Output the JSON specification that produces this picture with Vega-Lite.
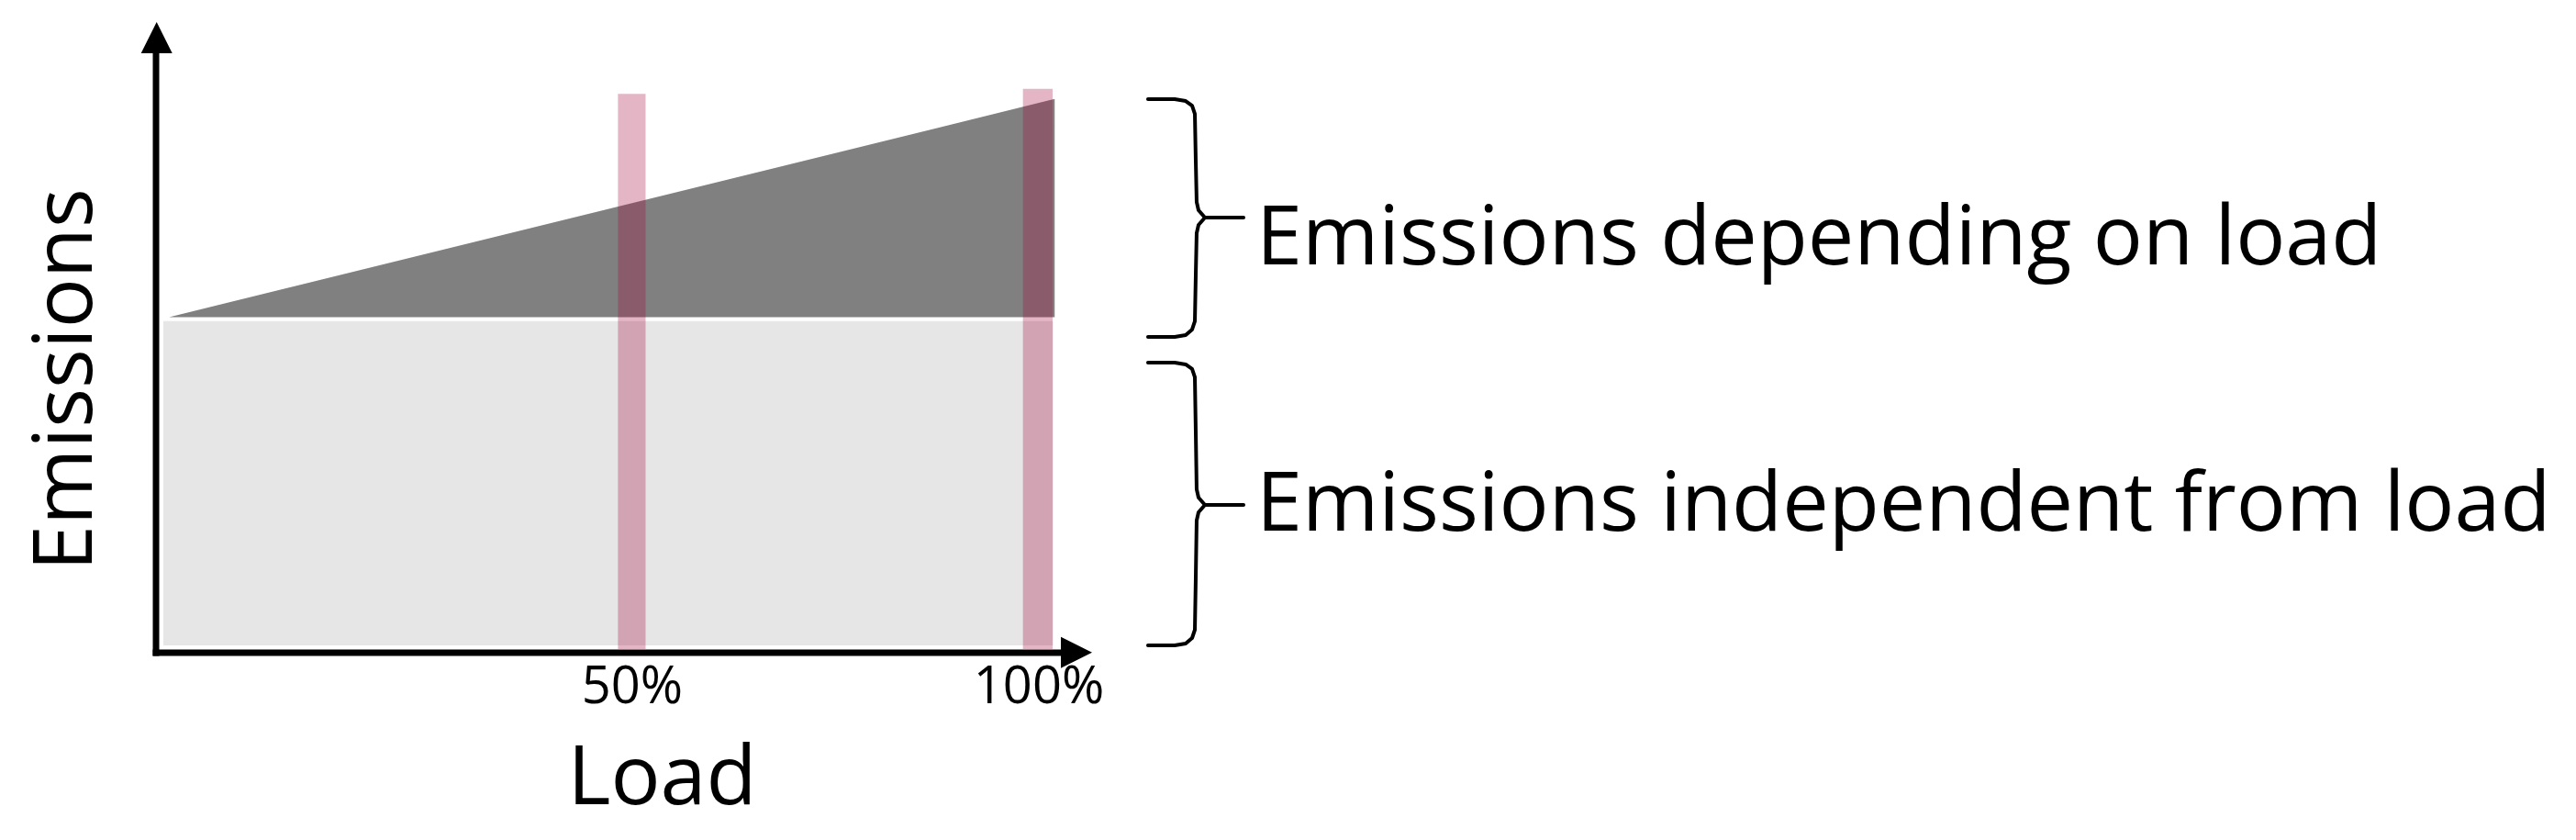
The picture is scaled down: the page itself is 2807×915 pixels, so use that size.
{
  "$schema": "https://vega.github.io/schema/vega-lite/v6.json",
  "width": 1020,
  "height": 687,
  "autosize": {"type": "none"},
  "padding": {"left": 170, "top": 24, "right": 1617, "bottom": 204},
  "background": "white",
  "config": {"view": {"stroke": null}},
  "encoding": {
    "x": {
      "field": "x", "type": "quantitative",
      "scale": {"domain": [-8.5, 106.6], "nice": false, "zero": false},
      "axis": {
        "values": [50, 100], "labelExpr": "datum.value + '%'",
        "domain": false, "ticks": false, "grid": false, "tickSize": 0,
        "labelFont": "Open Sans", "labelFontSize": 56, "labelColor": "black",
        "labelBaseline": "alphabetic", "labelPadding": 54, "labelFlush": false,
        "title": "Load", "titleFont": "Open Sans", "titleFontSize": 90,
        "titleFontWeight": "normal", "titleColor": "black",
        "titleBaseline": "alphabetic", "titleX": 551, "titleY": 164
      }
    },
    "y": {
      "field": "y", "type": "quantitative",
      "scale": {"domain": [0, 100], "nice": false, "zero": false},
      "axis": {
        "domain": false, "ticks": false, "labels": false, "grid": false,
        "title": "Emissions", "titleFont": "Open Sans", "titleFontSize": 90,
        "titleFontWeight": "normal", "titleColor": "black",
        "titleBaseline": "alphabetic", "titleAngle": -90,
        "titleX": -71, "titleY": 389
      }
    }
  },
  "layer": [
    {
      "data": {"values": [{"part": "independent", "x": -7.6, "x2": 101.8, "y": 1.16, "y2": 52.6}]},
      "mark": {"type": "rect", "color": "#e6e6e6"},
      "encoding": {"x2": {"field": "x2"}, "y2": {"field": "y2"}}
    },
    {
      "data": {"values": [
        {"part": "depending", "x": -6.9, "y": 53.2, "y2": 53.2},
        {"part": "depending", "x": 102.0, "y": 87.8, "y2": 53.2}
      ]},
      "mark": {"type": "area", "color": "#808080", "interpolate": "linear"},
      "encoding": {"y2": {"field": "y2"}}
    },
    {
      "data": {"values": [
        {"load": "50%", "x": 48.3, "x2": 51.7, "y": 0.6, "y2": 88.6},
        {"load": "100%", "x": 98.1, "x2": 101.75, "y": 0.6, "y2": 89.4}
      ]},
      "mark": {"type": "rect", "color": "#9e0037", "opacity": 0.29},
      "encoding": {"x2": {"field": "x2"}, "y2": {"field": "y2"}}
    },
    {
      "data": {"values": [
        {"axis": "y", "x": -8.5, "x2": -8.5, "y": 0, "y2": 95.2},
        {"axis": "x", "x": -8.5, "x2": 104.4, "y": 0, "y2": 0}
      ]},
      "mark": {"type": "rule", "color": "black", "strokeWidth": 7, "strokeCap": "square"},
      "encoding": {"x2": {"field": "x2"}, "y2": {"field": "y2"}}
    },
    {
      "data": {"values": [
        {"dir": "up", "x": -8.42, "y": 100},
        {"dir": "right", "x": 106.6, "y": 0.05}
      ]},
      "mark": {"type": "point", "filled": true, "color": "black", "opacity": 1, "size": 1156},
      "encoding": {
        "shape": {"field": "dir", "type": "nominal", "legend": null,
          "scale": {"domain": ["up", "right"], "range": ["M0,0L-1,2L1,2Z", "M0,0L-2,-1L-2,1Z"]}}
      }
    },
    {
      "data": {"values": [
        {"g": "b1", "o": 1, "x": 113.48, "y": 87.77},
        {"g": "b1", "o": 2, "x": 116.76, "y": 87.77},
        {"g": "b1", "o": 3, "x": 118.11, "y": 87.48},
        {"g": "b1", "o": 4, "x": 118.90, "y": 86.75},
        {"g": "b1", "o": 5, "x": 119.24, "y": 85.44},
        {"g": "b1", "o": 6, "x": 119.35, "y": 78.02},
        {"g": "b1", "o": 7, "x": 119.46, "y": 71.47},
        {"g": "b1", "o": 8, "x": 119.69, "y": 70.16},
        {"g": "b1", "o": 9, "x": 120.48, "y": 69.00},
        {"g": "b1", "o": 10, "x": 119.69, "y": 67.83},
        {"g": "b1", "o": 11, "x": 119.46, "y": 66.52},
        {"g": "b1", "o": 12, "x": 119.35, "y": 59.83},
        {"g": "b1", "o": 13, "x": 119.24, "y": 52.55},
        {"g": "b1", "o": 14, "x": 118.90, "y": 51.24},
        {"g": "b1", "o": 15, "x": 118.11, "y": 50.36},
        {"g": "b1", "o": 16, "x": 116.76, "y": 50.07},
        {"g": "b1", "o": 17, "x": 113.48, "y": 50.07},
        {"g": "t1", "o": 1, "x": 120.48, "y": 69.00},
        {"g": "t1", "o": 2, "x": 125.22, "y": 69.00},
        {"g": "b2", "o": 1, "x": 113.48, "y": 46.00},
        {"g": "b2", "o": 2, "x": 116.76, "y": 46.00},
        {"g": "b2", "o": 3, "x": 118.11, "y": 45.71},
        {"g": "b2", "o": 4, "x": 118.90, "y": 44.98},
        {"g": "b2", "o": 5, "x": 119.24, "y": 43.67},
        {"g": "b2", "o": 6, "x": 119.35, "y": 35.08},
        {"g": "b2", "o": 7, "x": 119.46, "y": 25.91},
        {"g": "b2", "o": 8, "x": 119.69, "y": 24.60},
        {"g": "b2", "o": 9, "x": 120.48, "y": 23.44},
        {"g": "b2", "o": 10, "x": 119.69, "y": 22.27},
        {"g": "b2", "o": 11, "x": 119.46, "y": 20.96},
        {"g": "b2", "o": 12, "x": 119.35, "y": 11.79},
        {"g": "b2", "o": 13, "x": 119.24, "y": 3.64},
        {"g": "b2", "o": 14, "x": 118.90, "y": 2.33},
        {"g": "b2", "o": 15, "x": 118.11, "y": 1.46},
        {"g": "b2", "o": 16, "x": 116.76, "y": 1.16},
        {"g": "b2", "o": 17, "x": 113.48, "y": 1.16},
        {"g": "t2", "o": 1, "x": 120.48, "y": 23.44},
        {"g": "t2", "o": 2, "x": 125.22, "y": 23.44}
      ]},
      "mark": {"type": "line", "color": "black", "strokeWidth": 4, "interpolate": "linear", "strokeJoin": "round", "strokeCap": "round"},
      "encoding": {
        "detail": {"field": "g", "type": "nominal"},
        "order": {"field": "o", "type": "quantitative"}
      }
    },
    {
      "data": {"values": [
        {"label": "Emissions depending on load", "x": 126.8, "y": 61.57},
        {"label": "Emissions independent from load", "x": 126.8, "y": 19.36}
      ]},
      "mark": {"type": "text", "align": "left", "baseline": "alphabetic", "font": "Open Sans", "fontSize": 90, "color": "black"},
      "encoding": {"text": {"field": "label", "type": "nominal"}}
    }
  ]
}
